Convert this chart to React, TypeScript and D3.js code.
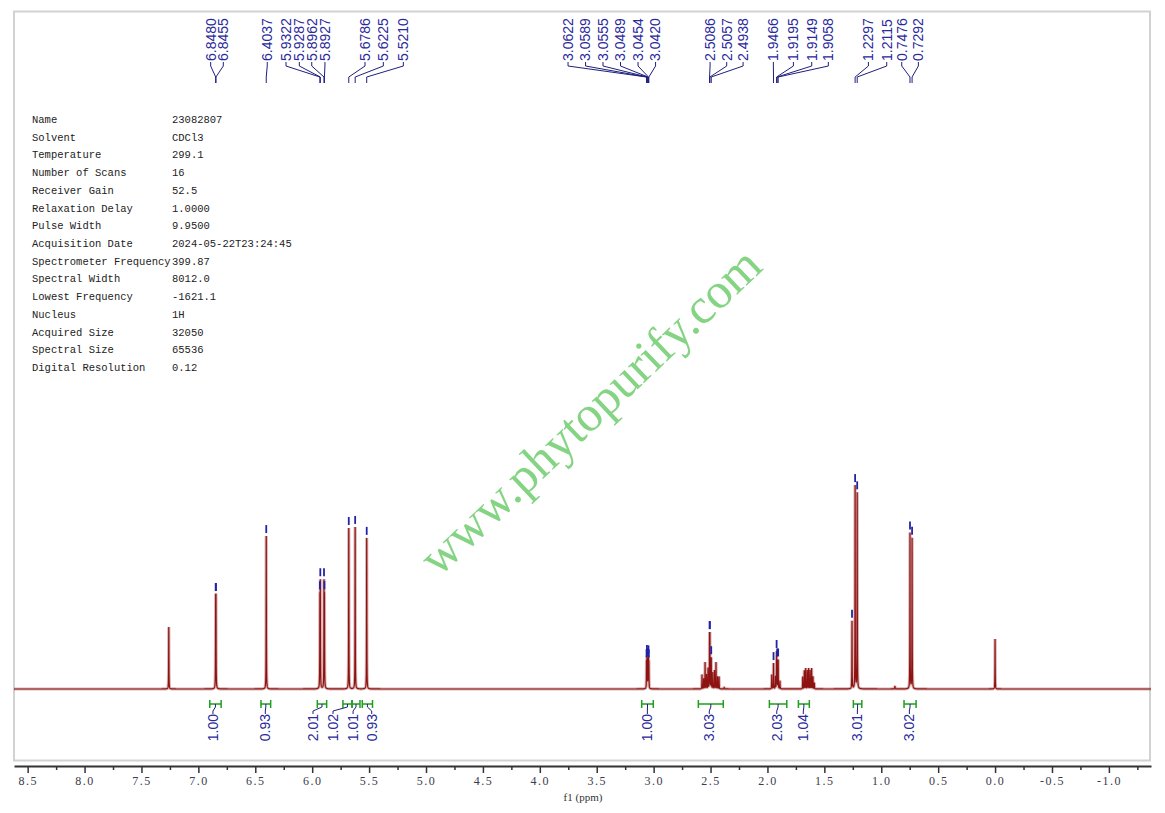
import * as d3 from "d3";
import { useEffect, useRef } from "react";

const W = 1165;
const H = 813;

// acquisition parameters shown in the upper-left table
const paramNames = [
  "Name", "Solvent", "Temperature", "Number of Scans", "Receiver Gain",
  "Relaxation Delay", "Pulse Width", "Acquisition Date", "Spectrometer Frequency",
  "Spectral Width", "Lowest Frequency", "Nucleus", "Acquired Size",
  "Spectral Size", "Digital Resolution",
];
const paramValues = [
  "23082807", "CDCl3", "299.1", "16", "52.5", "1.0000", "9.9500",
  "2024-05-22T23:24:45", "399.87", "8012.0", "-1621.1", "1H", "32050",
  "65536", "0.12",
];

// spectrum lines: [ppm, relative height]
const lines: [number, number][] = [
  [7.26, 30.2],
  [6.848, 39], [6.8455, 39],
  [6.4037, 74.6],
  [5.9322, 42], [5.9287, 49], [5.8962, 49], [5.8927, 42],
  [5.6786, 78.5], [5.6225, 79], [5.521, 73.7],
  [3.0622, 12], [3.0589, 13], [3.0555, 12], [3.0489, 12], [3.0454, 13], [3.042, 12],
  [2.575, 7], [2.561, 5], [2.548, 13], [2.535, 7], [2.522, 10], [2.5086, 24],
  [2.5057, 24], [2.4938, 15], [2.48, 8], [2.465, 9], [2.452, 13], [2.438, 6],
  [2.425, 6], [2.38, 1],
  [1.962, 7], [1.9466, 12.5], [1.93, 6], [1.9195, 17.5], [1.9149, 13],
  [1.9058, 14], [1.89, 4],
  [1.69, 6], [1.676, 9], [1.664, 10], [1.65, 9], [1.638, 10], [1.625, 9],
  [1.612, 10], [1.6, 6], [1.588, 3],
  [1.257, 33], [1.2297, 99], [1.2115, 95.5],
  [0.88, 1.5],
  [0.7476, 76], [0.7292, 73.5],
  [0.0, 24.4],
];
const HWHM = 0.0012;

// picked peaks and where their labels sit along the axis
const pickedPpm = [
  6.848, 6.8455, 6.4037, 5.9322, 5.9287, 5.8962, 5.8927, 5.6786, 5.6225, 5.521,
  3.0622, 3.0589, 3.0555, 3.0489, 3.0454, 3.042, 2.5086, 2.5057, 2.4938,
  1.9466, 1.9195, 1.9149, 1.9058, 1.2297, 1.2115, 0.7476, 0.7292,
];
const pickedLabelPpm = [
  6.892, 6.781, 6.395, 6.23, 6.113, 6.004, 5.888, 5.536, 5.375, 5.199,
  3.752, 3.598, 3.445, 3.291, 3.137, 2.983, 2.504, 2.358, 2.214,
  1.948, 1.772, 1.611, 1.465, 1.113, 0.952, 0.82, 0.674,
];
const unlabeledPicks = [1.257];

// integrals
const integralFrom = [6.9, 6.45, 5.955, 5.73, 5.65, 5.56, 3.105, 2.607, 1.983, 1.728, 1.245, 0.8];
const integralTo = [6.8, 6.365, 5.873, 5.65, 5.58, 5.47, 3.003, 2.388, 1.83, 1.632, 1.171, 0.694];
const integralValues = ["1.00", "0.93", "2.01", "1.02", "1.01", "0.93", "1.00", "3.03", "2.03", "1.04", "3.01", "3.02"];
const integralLabelPpm = [6.872, 6.412, 5.993, 5.817, 5.641, 5.477, 3.055, 2.511, 1.918, 1.685, 1.21, 0.753];

// axis ticks
const majorTicks = [8.5, 8.0, 7.5, 7.0, 6.5, 6.0, 5.5, 5.0, 4.5, 4.0, 3.5, 3.0, 2.5, 2.0, 1.5, 1.0, 0.5, 0.0, -0.5, -1.0];

const BLUE = "#2a2a9c";
const GREEN = "#1f9f1f";

export default function App() {
  const ref = useRef<SVGSVGElement | null>(null);

  useEffect(() => {
    const svg = d3.select(ref.current);
    svg.selectAll("*").remove();

    const x = d3.scaleLinear().domain([8.62, -1.37]).range([14, 1151]);
    const y = d3.scaleLinear().domain([0, 100]).range([689, 484]);
    const spec = (p: number) =>
      d3.sum(lines, ([c, h]) => h / (1 + ((p - c) / HWHM) ** 2));

    svg.append("rect").attr("width", W).attr("height", H).attr("fill", "#fff");

    // frame
    svg.append("rect")
      .attr("x", 14).attr("y", 11.5).attr("width", 1136).attr("height", 749)
      .attr("fill", "none").attr("stroke", "#d2d2d2").attr("stroke-width", 2);

    // watermark
    svg.append("text")
      .attr("transform", "translate(590,411) rotate(-43.5)")
      .attr("text-anchor", "middle").attr("dominant-baseline", "central")
      .attr("font-family", "'Liberation Serif', serif").attr("font-size", 50)
      .attr("fill", "#84d484")
      .text("www.phytopurify.com");

    // parameter table
    const tbl = svg.append("g").attr("font-family", "'Liberation Mono', monospace")
      .attr("font-size", 10.5).attr("fill", "#222");
    paramNames.forEach((n, i) => {
      const ty = 123 + i * 17.72;
      tbl.append("text").attr("x", 32).attr("y", ty).text(n);
      tbl.append("text").attr("x", 172).attr("y", ty).text(paramValues[i]);
    });

    // spectrum
    const samples = d3.range(8.62, -1.37, -0.0004).concat(lines.map(l => l[0]));
    samples.sort((a, b) => b - a);
    const pts: [number, number][] = samples.map(p => [p, spec(p)]);
    const line = d3.line<[number, number]>().x(d => x(d[0])).y(d => y(d[1]));
    const path = line(pts) ?? "";
    svg.append("path").attr("d", path).attr("fill", "none")
      .attr("stroke", "rgba(170,90,90,0.45)").attr("stroke-width", 3.2);
    svg.append("path").attr("d", path).attr("fill", "none")
      .attr("stroke", "#8e1212").attr("stroke-width", 1.2);

    // peak-pick markers
    pickedPpm.concat(unlabeledPicks).forEach(p => {
      const top = y(spec(p));
      svg.append("line")
        .attr("x1", x(p)).attr("x2", x(p))
        .attr("y1", top - 11).attr("y2", top - 3)
        .attr("stroke", "#2323a6").attr("stroke-width", 1.8);
    });

    // peak labels with leaders
    const pl = svg.append("g");
    pickedPpm.forEach((p, i) => {
      const px = x(p);
      const lx = x(pickedLabelPpm[i]);
      pl.append("path")
        .attr("d", `M${lx},62L${lx},66L${px},77L${px},83`)
        .attr("fill", "none").attr("stroke", "#1f1f7e").attr("stroke-width", 1);
      pl.append("text")
        .attr("transform", `translate(${lx},61) rotate(-90)`)
        .attr("dy", "0.35em")
        .attr("font-family", "'Liberation Sans', Arial, sans-serif")
        .attr("font-size", 14).attr("fill", BLUE)
        .text(p.toFixed(4));
    });

    // integrals
    const ig = svg.append("g");
    integralValues.forEach((v, i) => {
      const x1 = x(integralFrom[i]);
      const x2 = x(integralTo[i]);
      const bx = (x1 + x2) / 2;
      const lx = x(integralLabelPpm[i]);
      ig.append("path")
        .attr("d", `M${x1},700V708M${x1},704H${x2}M${x2},700V708`)
        .attr("fill", "none").attr("stroke", GREEN).attr("stroke-width", 1.5);
      ig.append("path")
        .attr("d", `M${bx},704L${bx},707L${lx},711L${lx},714`)
        .attr("fill", "none").attr("stroke", "#1f1f7e").attr("stroke-width", 1);
      ig.append("text")
        .attr("transform", `translate(${lx},714) rotate(-90)`)
        .attr("dy", "0.35em").attr("text-anchor", "end")
        .attr("font-family", "'Liberation Sans', Arial, sans-serif")
        .attr("font-size", 14).attr("fill", BLUE)
        .text(v);
    });

    // x axis
    const minorTicks = majorTicks.slice(0, -1).map(t => t - 0.25).concat([-1.25]);
    const axisY = 766;
    const gMinor = svg.append("g").attr("transform", `translate(0,${axisY})`)
      .call(d3.axisBottom(x).tickValues(minorTicks).tickSize(4).tickSizeOuter(0).tickFormat(() => ""));
    gMinor.select(".domain").remove();
    gMinor.selectAll(".tick line").attr("stroke", "#333").attr("stroke-width", 1.5);

    const gAxis = svg.append("g").attr("transform", `translate(0,${axisY})`)
      .call(d3.axisBottom(x).tickValues(majorTicks).tickSize(7).tickSizeOuter(0)
        .tickFormat(d => (+d).toFixed(1)));
    gAxis.select(".domain").attr("stroke", "#333").attr("stroke-width", 2);
    gAxis.selectAll(".tick line").attr("stroke", "#333").attr("stroke-width", 1.5);
    gAxis.selectAll(".tick text")
      .attr("font-family", "'Liberation Serif', serif").attr("font-size", 12)
      .attr("letter-spacing", 1.5).attr("fill", "#3b3b4b");

    svg.append("text")
      .attr("x", 583).attr("y", 801).attr("text-anchor", "middle")
      .attr("font-family", "'Liberation Serif', serif").attr("font-size", 11)
      .attr("fill", "#333")
      .text("f1  (ppm)");
  }, []);

  return (
    <svg
      ref={ref}
      width={W}
      height={H}
      style={{ position: "absolute", left: 0, top: 0, display: "block" }}
    />
  );
}
